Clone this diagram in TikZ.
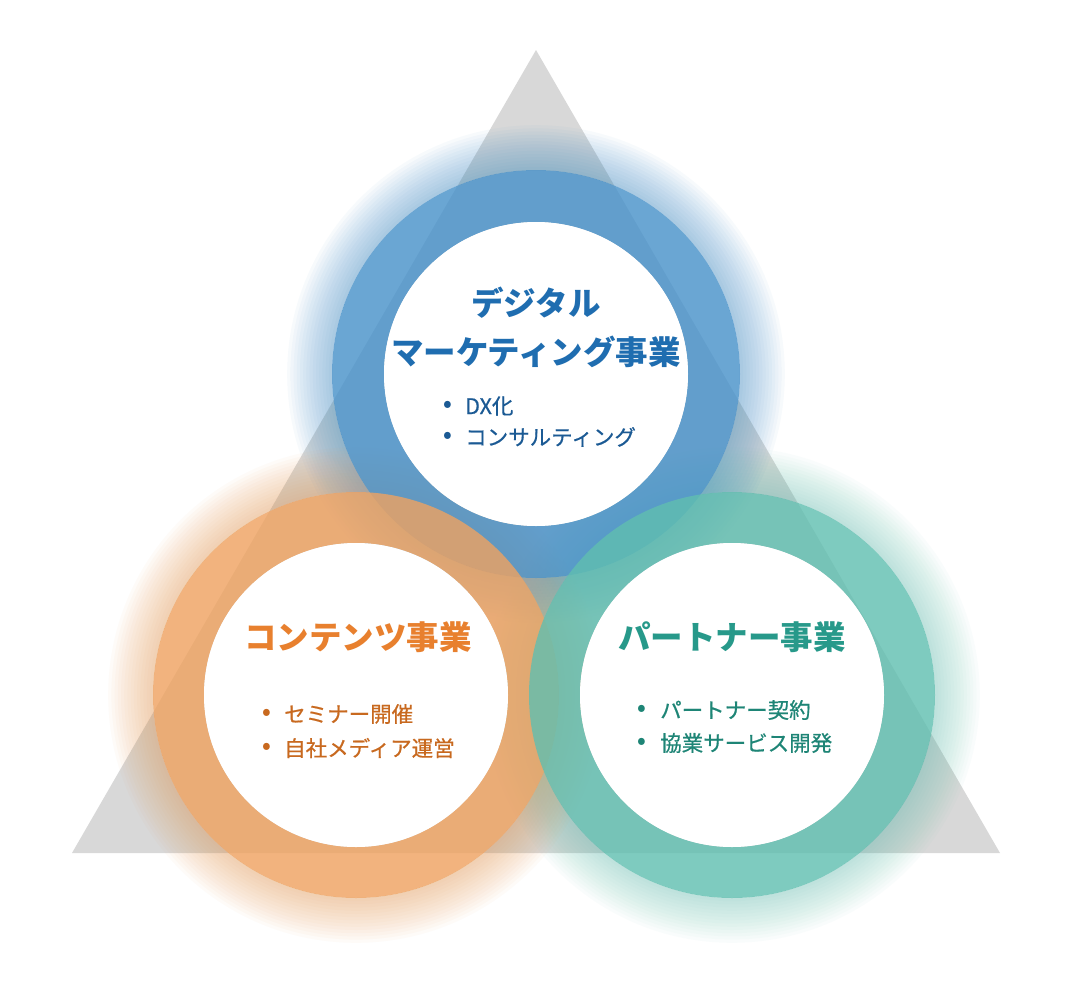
\documentclass[tikz,border=0pt]{standalone}
\usepackage{fontspec}
\setmainfont{Noto Sans CJK JP}
\newfontfamily\jp{Noto Sans CJK JP}
\newfontfamily\jpm[FakeBold=0.6]{Noto Sans CJK JP}
\definecolor{triG}{HTML}{D8D8D8}
\definecolor{ringB}{HTML}{4590C9}
\definecolor{ringO}{HTML}{EFA15E}
\definecolor{ringT}{HTML}{5EBEAF}
\definecolor{titB}{HTML}{1F6DB0}
\definecolor{txtB}{HTML}{1B5A94}
\definecolor{titO}{HTML}{E8802E}
\definecolor{txtO}{HTML}{C8691F}
\definecolor{titT}{HTML}{27998A}
\definecolor{txtT}{HTML}{1E8576}
\tikzset{
  title/.style={font=\jp\bfseries\fontsize{32.5}{38}\selectfont, inner sep=0pt},
  item/.style={font=\jpm\fontsize{21.5}{26}\selectfont, inner sep=0pt, anchor=west},
  dot/.style={font=\jp\bfseries\fontsize{22}{24}\selectfont, inner sep=0pt},
}
\begin{document}
\begin{tikzpicture}[x=1pt,y=-1pt]
\useasboundingbox (0,0) rectangle (1072,986);
\fill[white] (0,0) rectangle (1072,986);
% triangle
\coordinate (apex) at (536,50);
\coordinate (bl) at (72,853);
\coordinate (br) at (1000,853);
\fill[triG] (apex) -- (bl) -- (br) -- cycle;
% centres
\coordinate (cB) at (536,374);
\coordinate (cO) at (356,695);
\coordinate (cT) at (732,695);
% glows (annuli outside the rings)
\foreach \k in {1,...,14}{
  \fill[ringB, opacity=0.04, even odd rule] (cB) circle ({(204+\k*3.2)*1pt}) (cB) circle (204pt);
  \fill[ringO, opacity=0.04, even odd rule] (cO) circle ({(203+\k*3.2)*1pt}) (cO) circle (203pt);
  \fill[ringT, opacity=0.032, even odd rule] (cT) circle ({(203+\k*3.2)*1pt}) (cT) circle (203pt);
}
% rings
\fill[ringB, fill opacity=0.8, even odd rule] (cB) circle (204pt) (cB) circle (152pt);
\fill[ringO, fill opacity=0.8, even odd rule] (cO) circle (203pt) (cO) circle (152pt);
\fill[ringT, fill opacity=0.8, even odd rule] (cT) circle (203pt) (cT) circle (152pt);
% inner discs
\fill[white] (cB) circle (152pt);
\fill[white] (cO) circle (152pt);
\fill[white] (cT) circle (152pt);
% top texts
\node[title, text=titB] (tB1) at (536,303) {デジタル};
\node[title, text=titB] (tB2) at (536,352) {マーケティング事業};
\node[dot, text=txtB] (dB1) at (448,406) {•};
\node[item, text=txtB] (iB1) at (465,406) {DX化};
\node[dot, text=txtB] (dB2) at (448,437) {•};
\node[item, text=txtB] (iB2) at (465,437) {コンサルティング};
% orange texts
\node[title, text=titO] (tO) at (358,637) {コンテンツ事業};
\node[dot, text=txtO] (dO1) at (267,714) {•};
\node[item, text=txtO] (iO1) at (284,714) {セミナー開催};
\node[dot, text=txtO] (dO2) at (267,748) {•};
\node[item, text=txtO] (iO2) at (284,748) {自社メディア運営};
% teal texts
\node[title, text=titT] (tT) at (732,637) {パートナー事業};
\node[dot, text=txtT] (dT1) at (642,710) {•};
\node[item, text=txtT] (iT1) at (660,710) {パートナー契約};
\node[dot, text=txtT] (dT2) at (642,743) {•};
\node[item, text=txtT] (iT2) at (660,743) {協業サービス開発};
\end{tikzpicture}
\end{document}
